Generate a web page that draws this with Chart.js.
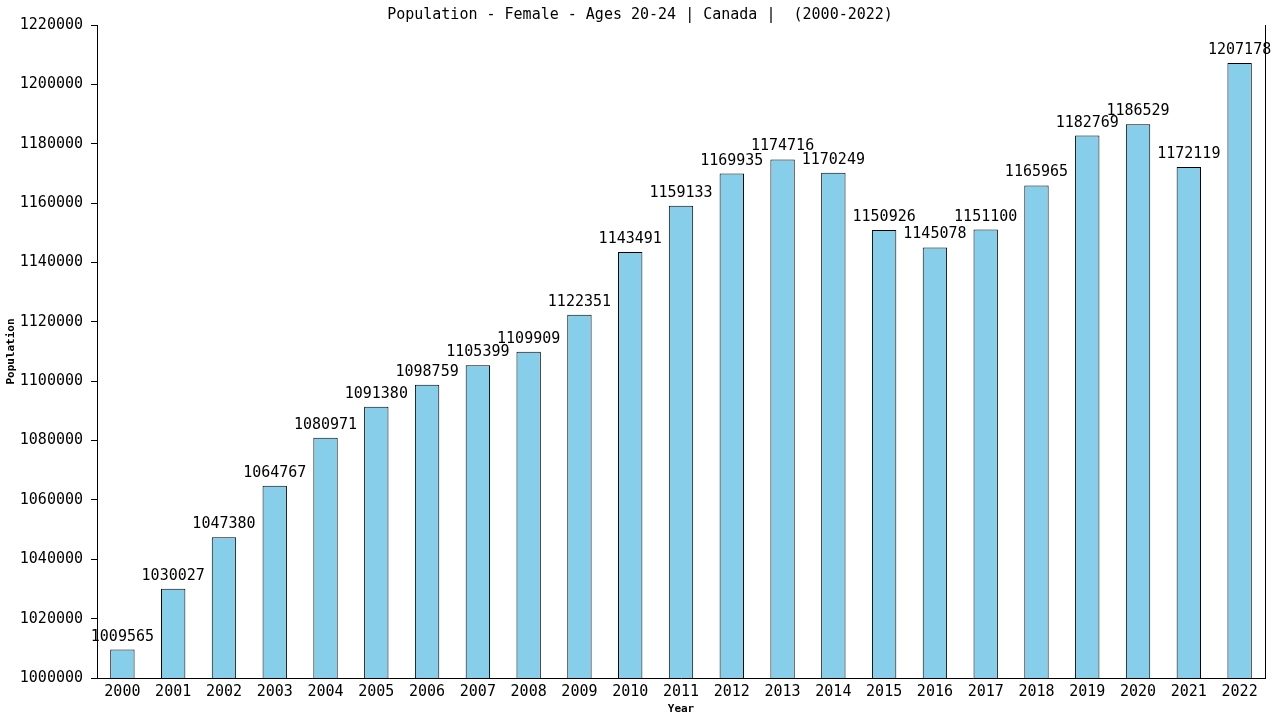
<!DOCTYPE html>
<html>
<head>
<meta charset="utf-8">
<script src="https://cdn.jsdelivr.net/npm/chart.js@4.4.1/dist/chart.umd.min.js"></script>
<style>
  html, body { margin: 0; padding: 0; background: #fff; }
  #wrap { width: 1280px; height: 720px; }
</style>
</head>
<body>
<div id="wrap"><canvas id="myChart" width="1280" height="720"></canvas></div>
<script>
const years = ["2000", "2001", "2002", "2003", "2004", "2005", "2006", "2007", "2008", "2009", "2010", "2011",
  "2012", "2013", "2014", "2015", "2016", "2017", "2018", "2019", "2020", "2021", "2022"];
const population = [1009565, 1030027, 1047380, 1064767, 1080971, 1091380, 1098759, 1105399, 1109909, 1122351,
  1143491, 1159133, 1169935, 1174716, 1170249, 1150926, 1145078, 1151100, 1165965, 1182769, 1186529,
  1172119, 1207178];
const yMin = 1000000;
const yMax = 1220000;
const yStep = 20000;

const mono = "'DejaVu Sans Mono', monospace";

// value above each bar
const barLabels = {
  id: "barLabels",
  afterDatasetsDraw(chart) {
    const ctx = chart.ctx;
    const meta = chart.getDatasetMeta(0);
    ctx.save();
    ctx.font = "15px " + mono;
    ctx.fillStyle = "#000";
    ctx.textAlign = "center";
    ctx.textBaseline = "alphabetic";
    meta.data.forEach((bar, i) => {
      ctx.fillText(String(population[i]), bar.x, bar.y - 9);
    });
    ctx.restore();
  }
};

const ctx = document.getElementById("myChart").getContext("2d");

new Chart(ctx, {
  type: "bar",
  data: {
    labels: years,
    datasets: [{
      label: "Population",
      data: population,
      backgroundColor: "#87CEEB",
      borderColor: "#000",
      borderWidth: { top: 1, left: 1, right: 1, bottom: 0 },
      borderSkipped: false,
      barPercentage: 0.48,
      categoryPercentage: 1
    }]
  },
  options: {
    responsive: false,
    animation: false,
    layout: { padding: 0 },
    plugins: {
      legend: { display: false },
      tooltip: { enabled: false },
      title: {
        display: true,
        text: "Population - Female - Ages 20-24 | Canada |  (2000-2022)",
        color: "#000",
        font: { family: mono, size: 15, weight: "normal", lineHeight: 1.2 },
        padding: { top: 6, bottom: 1 }
      }
    },
    scales: {
      x: {
        grid: { display: false, drawTicks: false },
        border: { display: true, color: "#000", width: 1 },
        ticks: { color: "#000", font: { family: mono, size: 15 }, padding: 5, maxRotation: 0, autoSkip: false },
        title: {
          display: true,
          text: "Year",
          color: "#000",
          font: { family: mono, size: 11, weight: "bold" },
          padding: { top: 0, bottom: 4 }
        },
        afterFit(scale) { scale.height = 42; }
      },
      y: {
        min: yMin,
        max: yMax,
        grid: { drawOnChartArea: false, drawTicks: true, tickLength: 6, color: "#000" },
        border: { display: true, color: "#000", width: 1 },
        ticks: {
          stepSize: yStep,
          color: "#000",
          font: { family: mono, size: 15 },
          padding: 8,
          callback: (v) => String(v)
        },
        title: {
          display: true,
          text: "Population",
          color: "#000",
          font: { family: mono, size: 11, weight: "bold" },
          padding: { top: 5, bottom: 2 }
        },
        afterFit(scale) { scale.width = 97; }
      },
      yRight: {
        position: "right",
        min: yMin,
        max: yMax,
        grid: { drawOnChartArea: false, drawTicks: false },
        border: { display: true, color: "#000", width: 1 },
        ticks: { display: false },
        afterFit(scale) { scale.width = 15; }
      }
    }
  },
  plugins: [barLabels]
});
</script>
</body>
</html>
